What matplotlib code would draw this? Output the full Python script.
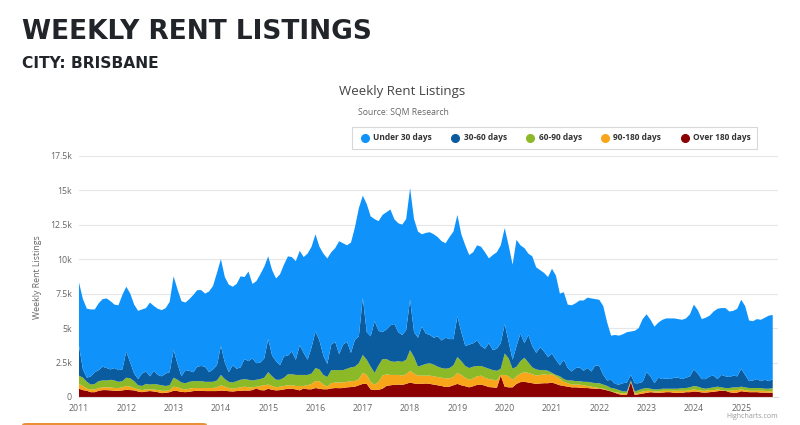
import numpy as np
import matplotlib
matplotlib.use('Agg')
from matplotlib import pyplot as plt
from matplotlib.lines import Line2D
from matplotlib.patches import FancyBboxPatch

# monthly readings, Jan 2011 to Sep 2025
# each list is the top edge of that band in the stack
top_over_180 = [
    600, 500, 450, 350, 350, 450, 500, 500, 480, 450, 450, 480,
    520, 500, 480, 400, 350, 400, 430, 400, 350, 280, 300, 350,
    450, 430, 370, 350, 380, 430, 450, 450, 430, 430, 430, 430,
    470, 450, 420, 400, 430, 450, 470, 460, 500, 620, 500, 480,
    600, 520, 480, 500, 550, 600, 600, 550, 480, 620, 560, 560,
    650, 600, 560, 560, 620, 650, 640, 650, 700, 720, 750, 850,
    950, 950, 550, 500, 520, 600, 800, 850, 880, 900, 880, 950,
    1050, 980, 950, 950, 980, 950, 900, 850, 800, 720, 750, 850,
    950, 850, 780, 700, 780, 880, 900, 820, 720, 700, 650, 1550,
    750, 700, 700, 950, 1080, 1100, 1050, 1000, 950, 980, 1000, 1000,
    1050, 950, 850, 800, 750, 700, 700, 680, 650, 650, 620, 600,
    600, 550, 480, 400, 300, 200, 150, 150, 1100, 150, 200, 250,
    300, 350, 320, 300, 320, 350, 350, 300, 300, 300, 350, 350,
    400, 380, 330, 320, 350, 380, 420, 450, 450, 350, 300, 320,
    420, 380, 350, 350, 350, 320, 320, 300, 300,
]
top_90_180 = [
    950, 800, 600, 550, 550, 650, 700, 700, 700, 650, 650, 700,
    800, 750, 650, 550, 500, 550, 550, 550, 500, 450, 450, 500,
    750, 700, 600, 550, 600, 650, 650, 650, 650, 650, 650, 700,
    850, 750, 650, 600, 650, 700, 750, 700, 700, 750, 800, 850,
    900, 800, 700, 750, 800, 850, 850, 800, 800, 800, 850, 950,
    1150, 1150, 900, 750, 1000, 1050, 1050, 1050, 1100, 1150, 1150, 1300,
    1750, 1600, 1100, 900, 1100, 1550, 1650, 1600, 1600, 1600, 1550, 1650,
    1900, 1700, 1550, 1550, 1550, 1550, 1500, 1450, 1400, 1350, 1350, 1450,
    1750, 1600, 1400, 1250, 1350, 1500, 1550, 1400, 1300, 1250, 1200, 1600,
    1600, 1500, 1250, 1500, 1700, 1800, 1750, 1650, 1550, 1600, 1650, 1600,
    1650, 1500, 1300, 1100, 1000, 900, 900, 900, 850, 800, 750, 700,
    650, 600, 500, 400, 350, 300, 250, 250, 1150, 250, 300, 400,
    450, 450, 400, 400, 450, 450, 450, 450, 450, 450, 450, 500,
    550, 500, 450, 450, 500, 500, 550, 500, 450, 450, 500, 500,
    550, 500, 450, 450, 450, 450, 450, 400, 450,
]
top_60_90 = [
    1550, 1400, 1100, 900, 950, 1150, 1200, 1200, 1250, 1200, 1100, 1150,
    1400, 1350, 1150, 850, 800, 950, 900, 950, 900, 850, 800, 850,
    1400, 1250, 1050, 1000, 1100, 1150, 1150, 1150, 1100, 1100, 1100, 1200,
    1600, 1300, 1100, 1050, 1150, 1250, 1300, 1250, 1200, 1250, 1300, 1400,
    1800, 1500, 1250, 1250, 1400, 1650, 1650, 1600, 1600, 1600, 1600, 1700,
    2100, 2000, 1600, 1450, 1950, 1950, 1950, 1950, 2050, 2150, 2200, 2450,
    3050, 2700, 2200, 1750, 2300, 2750, 2750, 2600, 2550, 2600, 2550, 2700,
    3400, 2900, 2200, 2300, 2400, 2450, 2350, 2200, 2100, 2050, 2100, 2300,
    2900, 2600, 2250, 2100, 2200, 2250, 2250, 2150, 2050, 1950, 1900, 2050,
    3150, 2800, 2050, 2200, 2600, 2850, 2500, 2150, 2000, 1950, 1950, 1900,
    1750, 1600, 1500, 1300, 1200, 1200, 1150, 1150, 1100, 1100, 1050, 1000,
    1000, 900, 800, 650, 600, 500, 400, 400, 1200, 400, 500, 600,
    650, 600, 550, 550, 600, 600, 600, 600, 600, 650, 650, 700,
    800, 750, 650, 600, 650, 700, 750, 700, 650, 650, 700, 700,
    750, 700, 650, 650, 650, 650, 600, 600, 650,
]
top_30_60 = [
    3700, 2000, 1400, 1500, 1800, 1950, 2200, 2100, 2000, 2100, 1950, 2000,
    3300, 2500, 1700, 1300, 1700, 1850, 1500, 1900, 1600, 1500, 1700, 1800,
    3400, 2400, 1500, 1950, 1900, 1800, 2200, 2250, 2200, 1800, 2000, 2300,
    3700, 2500, 1800, 2300, 2050, 2150, 2750, 2600, 2800, 2450, 2500, 2800,
    4200, 3000, 2600, 2300, 2950, 3000, 3300, 2700, 3750, 3200, 2700, 3600,
    4750, 4100, 3000, 2400, 3800, 4000, 3100, 3800, 4000, 3200, 4150, 4400,
    7200, 4700, 4400, 5500, 4800, 4700, 4900, 5200, 5300, 4700, 4500, 4850,
    7050, 4700, 4300, 5100, 4600, 4500, 4300, 4400, 4100, 4300, 4200, 4200,
    5850, 4700, 3700, 3800, 3900, 4100, 3700, 3500, 3900, 3400, 3500, 3900,
    5300, 4000, 2700, 3700, 4600, 3900, 4500, 3700, 3200, 3600, 3300, 2900,
    3150, 2700, 2300, 2700, 2100, 1850, 2100, 2150, 1900, 2100, 1850, 2300,
    2250, 1600, 1200, 1250, 950, 900, 1000, 1050, 1600, 1000, 1000, 1100,
    1800, 1500, 1000, 1400, 1300, 1350, 1300, 1400, 1400, 1300, 1400, 1500,
    2000, 1700, 1300, 1300, 1500, 1550, 1300, 1600, 1500, 1450, 1550, 1500,
    2050, 1600, 1150, 1200, 1300, 1150, 1250, 1150, 1300,
]
top_under_30 = [
    8300, 7100, 6400, 6350, 6350, 6800, 7100, 7150, 6950, 6700, 6650, 7400,
    8000, 7500, 6700, 6250, 6350, 6450, 6850, 6600, 6400, 6300, 6450, 6900,
    8750, 7800, 6950, 6850, 7100, 7400, 7750, 7750, 7500, 7650, 8050, 9000,
    10000, 8700, 8150, 8000, 8200, 8750, 8700, 9100, 8200, 8400, 8900, 9450,
    10200, 9200, 8600, 8900, 9600, 10200, 10150, 9850, 10600, 10150, 10400, 10900,
    11800, 10900, 10400, 10050, 10500, 10800, 11300, 11150, 11000, 11200, 12300, 13700,
    14600, 14000, 13100, 12900, 12750, 13200, 13400, 13600, 12900, 12600, 12500, 12900,
    15150, 12900, 12000, 11800, 11900, 11950, 11800, 11600, 11300, 11150, 11600, 12000,
    13200, 11800, 11000, 10300, 10500, 11000, 10900, 10500, 10050, 10300, 10500, 11000,
    12250, 11000, 9600, 11400, 11000, 10800, 10400, 10200, 9400, 9200, 9000, 8700,
    9300, 8800, 7500, 7600, 6700, 6650, 6800, 7000, 7000, 7200, 7150, 7100,
    7050, 6600, 5400, 4450, 4500, 4450, 4550, 4700, 4750, 4800, 5000, 5650,
    6000, 5600, 5100, 5400, 5600, 5700, 5700, 5700, 5650, 5600, 5700, 6000,
    6700, 6300, 5650, 5750, 5900, 6200, 6400, 6450, 6450, 6200, 6250, 6400,
    7050, 6600, 5550, 5500, 5650, 5600, 5750, 5900, 5950,
]

series_names = ['Under 30 days', '30-60 days', '60-90 days', '90-180 days', 'Over 180 days']
series_colors = ['#0f93fb', '#0b5c9e', '#8cb928', '#f9a51a', '#8b0000']
year_ticks = list(range(2011, 2026))
y_ticks = [0, 2500, 5000, 7500, 10000, 12500, 15000, 17500]
y_labels = ['0', '2.5k', '5k', '7.5k', '10k', '12.5k', '15k', '17.5k']

tops = np.array([top_over_180, top_90_180, top_60_90, top_30_60, top_under_30], dtype=float)
bands = np.diff(tops, axis=0, prepend=0)
dates = 2011 + np.arange(tops.shape[1]) / 12

W, H = 800, 425
fig = plt.figure(figsize=(W / 100, H / 100), dpi=100)
ax = fig.add_axes([79 / W, 1 - 397 / H, (778 - 79) / W, (397 - 155.7) / H])


def px(x, y):
    return x / W, 1 - y / H


ax.stackplot(dates, bands, colors=series_colors[::-1], linewidth=0, zorder=2)
ax.set_xlim(2011, 2011 + (778 - 79) / 47.3)
ax.set_ylim(0, 17500)

ax.set_yticks(y_ticks)
ax.set_yticklabels(y_labels)
ax.set_xticks(year_ticks)
ax.set_xticklabels([str(y) for y in year_ticks])
ax.tick_params(axis='both', length=0, labelsize=6.3, labelcolor='#666666', pad=5)
ax.grid(axis='y', color='#e6e6e6', linewidth=0.8, zorder=0)
ax.set_axisbelow(True)
for side in ['top', 'right', 'left']:
    ax.spines[side].set_visible(False)
ax.spines['bottom'].set_color('#dddddd')
ax.spines['bottom'].set_linewidth(0.8)

for label in ax.get_xticklabels() + ax.get_yticklabels():
    label.set_family('Open Sans')

fig.text(*px(22, 32), 'WEEKLY RENT LISTINGS', fontsize=19, fontweight='bold', color='#212529',
         family='DejaVu Sans', va='center')
fig.text(*px(22, 63), 'CITY: BRISBANE', fontsize=11.2, fontweight='bold', color='#212529',
         family='DejaVu Sans', va='center')
fig.text(*px(402.5, 91), 'Weekly Rent Listings', fontsize=9.5, color='#444444',
         family='Open Sans', ha='center', va='center')
fig.text(*px(403.5, 112), 'Source: SQM Research', fontsize=6.2, color='#666666',
         family='Open Sans', ha='center', va='center')
fig.text(*px(37, 277), 'Weekly Rent Listings', fontsize=6.3, color='#666666', rotation=90,
         family='Open Sans', ha='center', va='center')
fig.text(*px(778, 417), 'Highcharts.com', fontsize=5, color='#999999',
         family='Open Sans', ha='right', va='center')

handles = [Line2D([], [], linestyle='none', marker='o', markersize=5.5, color=c) for c in series_colors]
leg = fig.legend(handles, series_names, ncol=5, loc='center', bbox_to_anchor=px(554.5, 138),
                 fontsize=6.0, frameon=True, fancybox=False, edgecolor='#d8d8d8', framealpha=1,
                 handletextpad=0.2, columnspacing=2.0, borderpad=0.8, handlelength=1.6)
leg.get_frame().set_linewidth(0.8)
for t in leg.get_texts():
    t.set_color('#333333')
    t.set_fontweight('bold')
    t.set_family('Open Sans')

# orange button cut off at the bottom of the screenshot
x0, y0 = px(22, 430)
x1, y1 = px(207, 423)
fig.add_artist(FancyBboxPatch((x0, y0), x1 - x0, y1 - y0, boxstyle='round,pad=0,rounding_size=0.005',
                              transform=fig.transFigure, facecolor='#e98f36', edgecolor='none',
                              clip_on=True))

fig.savefig('out.png', dpi=100, facecolor='white')
